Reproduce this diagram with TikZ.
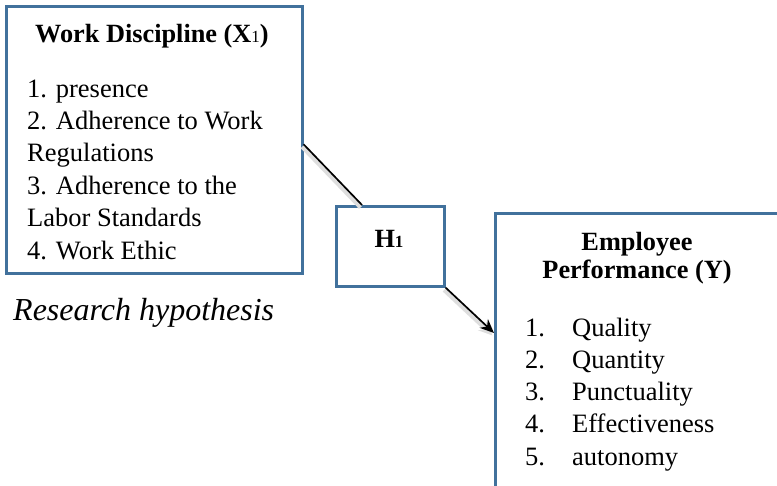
\documentclass[tikz,border=0pt]{standalone}
\usepackage{fontspec}
\setmainfont{Liberation Serif}
\usetikzlibrary{arrows.meta,calc}
\definecolor{boxblue}{RGB}{65,113,156}
\tikzset{
  box/.style={draw=boxblue, line width=2.6pt, inner sep=0pt, anchor=north west},
  item/.style={anchor=base west, inner sep=0pt},
  title/.style={anchor=base, inner sep=0pt, font=\fontsize{26.3}{31}\selectfont\bfseries},
  link/.style={line width=1.7pt, preaction={draw=black!13, line width=4pt, transform canvas={shift={(-1.5pt,-2.5pt)}}}}
}
\newcommand{\smallsub}[1]{{\fontsize{17}{17}\selectfont #1}}
\begin{document}
\begin{tikzpicture}[x=1pt,y=-1pt,font=\fontsize{26.5}{31}\selectfont]
\clip (0,0) rectangle (777,485);

% independent variable
\node[box, minimum width=296pt, minimum height=267pt] (disc) at (5,5) {};
\node[title] (disctitle) at (152,42) {Work Discipline (X\smallsub{\mdseries 1})};
\node[item] (d1) at (27,97) {1. presence};
\node[item] (d2) at (27,129.4) {2. Adherence to Work};
\node[item] (d3) at (27,161.8) {Regulations};
\node[item] (d4) at (27,194.2) {3. Adherence to the};
\node[item] (d5) at (27,226.6) {Labor Standards};
\node[item] (d6) at (27,259) {4. Work Ethic};

% hypothesis
\node[box, minimum width=108pt, minimum height=80pt] (hyp) at (335,205) {};
\node[title] (hyplabel) at (389,247) {H\smallsub{1}};

% dependent variable
\node[box, minimum width=400pt, minimum height=400pt] (perf) at (494,212) {};
\node[title] (perftitle1) at (637,250) {Employee};
\node[title] (perftitle2) at (637,278) {Performance (Y)};
\node[item] (p1) at (525,336) {1.};
\node[item] (p2) at (525,368.3) {2.};
\node[item] (p3) at (525,400.6) {3.};
\node[item] (p4) at (525,432.9) {4.};
\node[item] (p5) at (525,465.2) {5.};
\node[item] (q1) at (572,336) {Quality};
\node[item] (q2) at (572,368.3) {Quantity};
\node[item] (q3) at (572,400.6) {Punctuality};
\node[item] (q4) at (572,432.9) {Effectiveness};
\node[item] (q5) at (572,465.2) {autonomy};

\node[item, font=\fontsize{32}{37}\selectfont\itshape] (caption) at (13,320) {Research hypothesis};

% paths
\draw[link] ($(disc.east)+(0,4.5)$) -- ($(hyp.north west)+(27,0)$);
\draw[link, -{Stealth[length=14pt,width=12pt]}] (hyp.south east) -- ($(perf.north west)+(0,121)$);
\end{tikzpicture}
\end{document}
